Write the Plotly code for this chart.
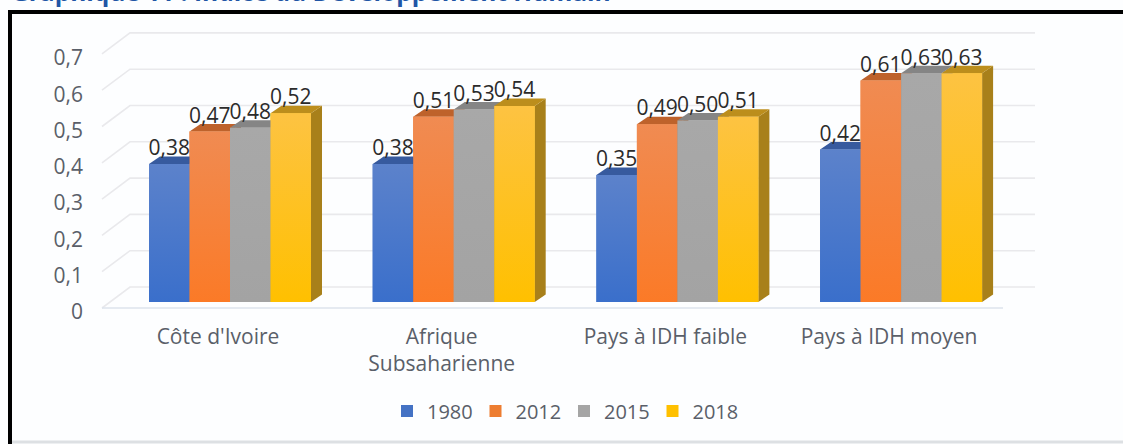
import plotly.graph_objects as go

categories = ["Côte d'Ivoire", "Afrique<br>Subsaharienne", "Pays à IDH faible", "Pays à IDH moyen"]
years = ["1980", "2012", "2015", "2018"]
v1980 = [0.38, 0.38, 0.35, 0.42]
v2012 = [0.47, 0.51, 0.49, 0.61]
v2015 = [0.48, 0.53, 0.50, 0.63]
v2018 = [0.52, 0.54, 0.51, 0.63]
y_ticks = [0, 0.1, 0.2, 0.3, 0.4, 0.5, 0.6, 0.7]
series = [v1980, v2012, v2015, v2018]

base_colors = ["#4472C4", "#ED7D31", "#A5A5A5", "#FFC000"]
top_grad = ["#5C82CB", "#F08B52", "#A8A8A8", "#FDC342"]
bot_grad = ["#3A6FCB", "#FB7A27", "#A3A3A3", "#FFC000"]
top_face = ["#375A9E", "#BE622B", "#858585", "#BC8E1C"]
side_face = ["#2F5597", "#A85A20", "#7A7A7A", "#A8801A"]

W, H = 1123, 444
PT, PB = 20, 318            # plot area, pixels from the top
GROUP_PX, FIRST_PX = 223.7, 230
BAR_PX, DX_PX, DY_PX = 40.5, 11, 7.5
UNIT_PX = 363
BAR_ZERO, FRONT_ZERO, BACK_ZERO, TICK_ZERO = 302, 308, 287, 312
LABEL_SHIFT_PX, TICK_SHIFT_PX = 4, 12


def xu(px):
    return (px - FIRST_PX) / GROUP_PX


def py(px):
    return (PB - px) / (PB - PT)


bw = BAR_PX / GROUP_PX
dx = DX_PX / GROUP_PX
dv = DY_PX / UNIT_PX
front_dv = (TICK_ZERO - FRONT_ZERO) / UNIT_PX
back_dv = (TICK_ZERO - BACK_ZERO) / UNIT_PX

fig = go.Figure()

# wall and floor gridlines
gx, gy = [], []
for t in y_ticks:
    gx += [xu(102), xu(130), xu(1035), None]
    gy += [t + front_dv, t + back_dv, t + back_dv, None]
fig.add_trace(go.Scatter(x=gx, y=gy, mode="lines", yaxis="y", xaxis="x", showlegend=False,
                         hoverinfo="skip", line=dict(color="#E9E9EC", width=1.6)))
fig.add_trace(go.Scatter(x=[xu(102), xu(1003)], y=[front_dv, front_dv], mode="lines", showlegend=False,
                         hoverinfo="skip", line=dict(color="#DDE3EC", width=1.6)))

for s, (name, vals) in enumerate(zip(years, series)):
    fig.add_trace(go.Bar(x=list(range(4)), y=vals, name=name, yaxis="y2",
                         marker=dict(color=base_colors[s], line=dict(width=0))))

for s, vals in enumerate(series):
    for g, v in enumerate(vals):
        left = g + (s - 2) * bw
        right = left + bw
        fig.add_trace(go.Scatter(
            x=[right, right + dx, right + dx, right, right], y=[0, dv, v + dv, v, 0],
            yaxis="y2", mode="lines", line=dict(width=0), fill="toself",
            fillcolor=side_face[s], showlegend=False, hoverinfo="skip"))
        fig.add_trace(go.Scatter(
            x=[left, left + dx, right + dx, right, left], y=[v, v + dv, v + dv, v, v],
            yaxis="y2", mode="lines", line=dict(width=0), fill="toself",
            fillcolor=top_face[s], showlegend=False, hoverinfo="skip"))
        fig.add_trace(go.Scatter(
            x=[left, right, right, left, left], y=[0, 0, v, v, 0],
            yaxis="y2", mode="lines", line=dict(width=0), fill="toself",
            fillgradient=dict(type="vertical",
                              colorscale=[[0, bot_grad[s]], [1, top_grad[s]]]),
            showlegend=False, hoverinfo="skip"))

for s, vals in enumerate(series):
    fig.add_trace(go.Scatter(
        x=[g + (s - 1.5) * bw for g in range(4)],
        y=[v + dv - LABEL_SHIFT_PX / UNIT_PX for v in vals],
        yaxis="y2", mode="text", text=[f"{v:.2f}".replace(".", ",") for v in vals],
        textposition="top center", showlegend=False, hoverinfo="skip",
        textfont=dict(family="Open Sans", size=21, color="#2B2B2B")))

xr = [xu(0), xu(W)]
fig.update_layout(
    width=W, height=H, autosize=False,
    margin=dict(l=0, r=0, t=PT, b=H - PB, pad=0),
    paper_bgcolor="#FDFEFF", plot_bgcolor="rgba(0,0,0,0)",
    barmode="group", bargap=1 - 4 * bw, bargroupgap=0,
    font=dict(family="Open Sans", color="#5A5F69"),
    xaxis=dict(range=xr, tickvals=[g - TICK_SHIFT_PX / GROUP_PX for g in range(4)],
               ticktext=categories, showgrid=False,
               zeroline=False, showline=False, ticks="", ticklabelstandoff=4,
               tickfont=dict(size=21, color="#5A5F69")),
    yaxis=dict(range=[(TICK_ZERO - PB) / UNIT_PX, (TICK_ZERO - PT) / UNIT_PX],
               anchor="free", position=83 / W, tickvals=y_ticks,
               ticktext=[str(t).replace(".", ",") for t in y_ticks],
               showgrid=False, zeroline=False, showline=False, ticks="",
               tickfont=dict(size=21, color="#5A5F69")),
    yaxis2=dict(range=[(BAR_ZERO - PB) / UNIT_PX, (BAR_ZERO - PT) / UNIT_PX],
                overlaying="y", side="right", visible=False),
    legend=dict(orientation="h", x=564 / W, xanchor="center", y=py(411), yanchor="middle",
                font=dict(size=20, color="#5A5F69"), entrywidth=43.5, entrywidthmode="pixels",
                itemwidth=30, bgcolor="rgba(0,0,0,0)"),
    shapes=[
        dict(type="line", xref="paper", yref="paper", x0=10 / W, x1=1, y0=py(12), y1=py(12),
             line=dict(color="#000000", width=4)),
        dict(type="line", xref="paper", yref="paper", x0=10 / W, x1=10 / W, y0=py(10), y1=py(H),
             line=dict(color="#000000", width=4)),
        dict(type="line", xref="paper", yref="paper", x0=12 / W, x1=1, y0=py(442), y1=py(442),
             line=dict(color="#DDE0E3", width=3)),
    ],
    annotations=[dict(text="Graphique 11 : Indice du Développement Humain", xref="paper", yref="paper",
                      x=9 / W, y=py(10.5), xanchor="left", yanchor="bottom", showarrow=False,
                      font=dict(family="Open Sans", size=24.5, color="#2055A5", weight="bold"))],
)

fig.write_html("out.html", post_script="document.body.style.margin='0';",
               config={"displayModeBar": False})
